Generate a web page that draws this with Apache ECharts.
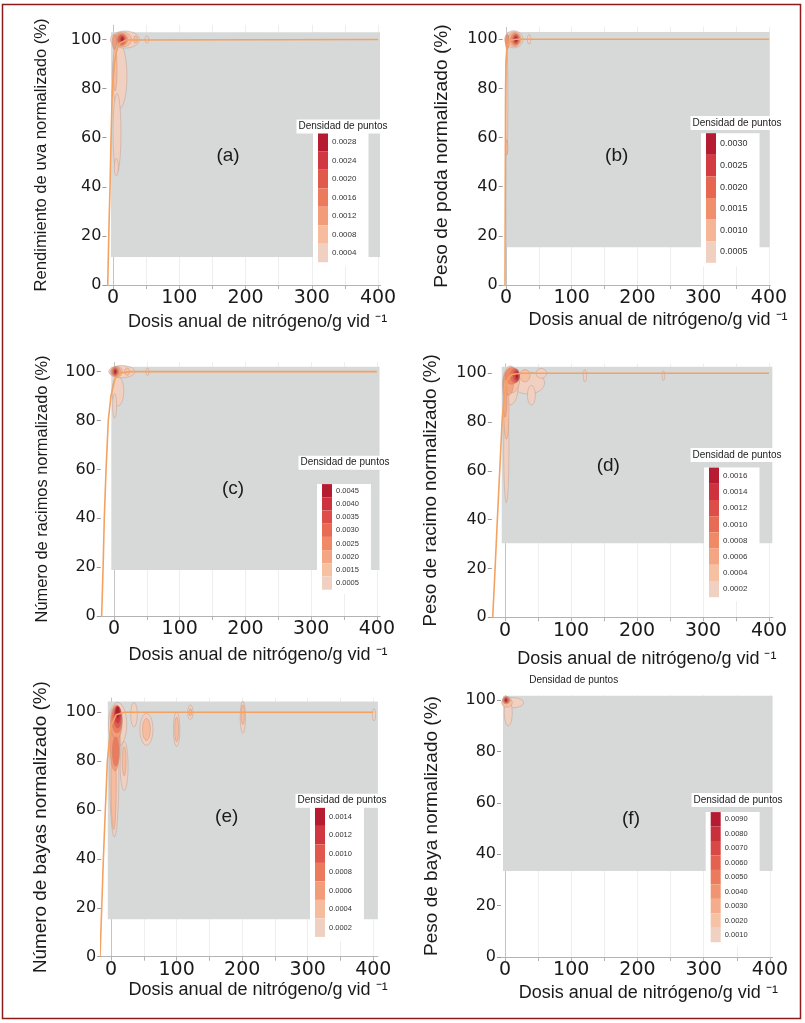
<!DOCTYPE html>
<html><head><meta charset="utf-8">
<script src="https://cdn.jsdelivr.net/npm/echarts@6/dist/echarts.min.js"></script>
<style>html,body{margin:0;padding:0;background:#fff}#c{width:805px;height:1023px}</style>
</head><body><div id="c"></div><script>
// ---------------- DATA ----------------
const yAxisTitles = [
  'Rendimiento de uva normalizado (%)',
  'Peso de poda normalizado (%)',
  'Número de racimos normalizado (%)',
  'Peso de racimo normalizado (%)',
  'Número de bayas normalizado (%)',
  'Peso de baya normalizado (%)'
];
const xAxisTitle = 'Dosis anual de nitrógeno/g vid ⁻¹';
const panelLetters = ['(a)', '(b)', '(c)', '(d)', '(e)', '(f)'];
const legendTitle = 'Densidad de puntos';
const xLabelTicks = [0, 100, 200, 300, 400];
const xMinorTicks = [0, 50, 100, 150, 200, 250, 300, 350, 400];
const yLabelTicks = [0, 20, 40, 60, 80, 100];

// legend levels (point density)
const levelsA = [0.0004, 0.0008, 0.0012, 0.0016, 0.0020, 0.0024, 0.0028];
const levelsB = [0.0005, 0.0010, 0.0015, 0.0020, 0.0025, 0.0030];
const levelsC = [0.0005, 0.0015, 0.0020, 0.0025, 0.0030, 0.0035, 0.0040, 0.0045];
const levelsD = [0.0002, 0.0004, 0.0006, 0.0008, 0.0010, 0.0012, 0.0014, 0.0016];
const levelsE = [0.0002, 0.0004, 0.0006, 0.0008, 0.0010, 0.0012, 0.0014];
const levelsF = [0.0010, 0.0020, 0.0030, 0.0040, 0.0050, 0.0060, 0.0070, 0.0080, 0.0090];

// density contours: [N dose, response %, half-width N, half-height %, density level]
const densityA = [
  [10, 85, 11, 13, 0.0004], [6, 62, 6, 16, 0.0004], [5, 48, 3, 3.5, 0.0004],
  [18, 100, 22, 3.5, 0.0004], [51, 100, 3, 1.5, 0.0004],
  [3, 88, 3, 9, 0.0008], [14, 100, 14, 3, 0.0008], [34, 100, 3, 1.5, 0.0008],
  [2, 99, 3, 3, 0.0012], [12, 100, 10, 2.6, 0.0012],
  [13, 100, 7, 2.2, 0.0016], [13, 100, 5, 1.8, 0.0020],
  [14, 100, 3.5, 1.4, 0.0024], [14, 100, 2, 1, 0.0028]
];
const densityB = [
  [12, 100, 14, 3.5, 0.0005], [35, 100, 2.5, 2, 0.0005], [1, 75, 2, 22, 0.0005],
  [13, 100, 10, 3, 0.0010], [1, 56, 2, 3, 0.0010],
  [2, 99, 3, 3, 0.0015], [14, 100, 7, 2.5, 0.0015],
  [15, 100, 5, 2, 0.0020], [15, 100, 3.5, 1.5, 0.0025], [15, 100, 2, 1, 0.0030]
];
const densityC = [
  [12, 100, 20, 2.5, 0.0005], [6, 92, 9, 6, 0.0005], [1, 86, 3, 5, 0.0005], [51, 100, 2.5, 1.5, 0.0005],
  [4, 100, 9, 2.2, 0.0015], [20, 100, 4, 1.5, 0.0015],
  [3, 100, 7, 2, 0.0020], [2, 100, 5, 1.8, 0.0025], [2, 100, 4, 1.5, 0.0030],
  [2, 100, 3, 1.2, 0.0035], [2, 100, 2, 1, 0.0040], [2, 100, 1.5, 0.8, 0.0045]
];
const densityD = [
  [2, 68, 4, 21, 0.0002], [8, 95, 12, 8, 0.0002], [35, 96, 25, 4.5, 0.0002], [40, 91, 6, 4, 0.0002],
  [55, 100, 8, 2, 0.0002], [121, 99, 2.5, 2.5, 0.0002], [240, 99, 2, 2, 0.0002],
  [2, 85, 4, 12, 0.0004], [10, 97, 12, 5, 0.0004], [30, 99, 8, 2.5, 0.0004],
  [0, 90, 3, 8, 0.0006], [5, 96, 8, 5, 0.0006], [10, 99, 10, 3.5, 0.0008],
  [15, 99, 7, 3, 0.0010], [17, 99, 5, 2.5, 0.0012], [18, 99, 3.5, 2, 0.0014], [18, 99, 2, 1.3, 0.0016]
];
const densityE = [
  [5, 75, 7, 26, 0.0002], [20, 78, 6, 10, 0.0002], [10, 95, 14, 9, 0.0002], [35, 99, 5, 5, 0.0002],
  [54, 93, 10, 6.5, 0.0002], [100, 93, 5, 7, 0.0002], [121, 100, 4, 3, 0.0002],
  [201, 98, 4, 6.5, 0.0002], [401, 99, 2.5, 2.5, 0.0002],
  [54, 93, 6, 4.5, 0.0004], [100, 93, 3, 5, 0.0004], [201, 99, 2.5, 4, 0.0004], [121, 100, 2, 1.5, 0.0004],
  [4, 70, 4, 18, 0.0004], [20, 80, 3, 6, 0.0004],
  [6, 88, 8, 12, 0.0006], [8, 96, 9, 7, 0.0006], [7, 84, 5, 6, 0.0008], [9, 97, 8, 5.5, 0.0008],
  [10, 98, 6, 4.5, 0.0010], [10, 99, 5, 3.5, 0.0012], [10, 100, 3.5, 2.5, 0.0014]
];
const densityF = [
  [12, 99, 16, 2, 0.0010], [5, 95, 6, 5, 0.0010], [3, 99, 8, 1.8, 0.0020],
  [2, 100, 6, 1.5, 0.0030], [2, 100, 5, 1.3, 0.0040], [2, 100, 4, 1.1, 0.0050],
  [2, 100, 3, 1, 0.0060], [1.5, 100, 2.5, 0.8, 0.0070], [1.5, 100, 2, 0.7, 0.0080], [1.5, 100, 1.5, 0.6, 0.0090]
];

// fitted response curves [N dose, %]
const curveA = [[-8, 0], [-6, 25], [-4.5, 40], [-3, 60], [-1, 80], [2, 90], [5, 95], [10, 98.5], [20, 99.8], [400, 100]];
const curveB = [[-1.5, 0], [-1, 50], [-0.5, 80], [0, 90], [2, 97], [6, 99.5], [15, 100], [400, 100]];
const curveC = [[-18.7, 0], [-16.5, 20], [-14.7, 40], [-12, 60], [-8.6, 80], [-4.6, 90], [1.5, 97], [10, 99.5], [25, 100], [400, 100]];
const curveD = [[-18.6, 0], [-15, 20], [-11.6, 40], [-8, 60], [-4.5, 80], [-1.5, 90], [3, 97], [10, 99.5], [25, 100], [400, 100]];
const curveE = [[-16.8, 0], [-14.2, 20], [-11.7, 40], [-8.7, 60], [-5.6, 80], [-2, 90], [1, 95], [8, 99], [20, 100], [400, 100]];
const curveF = [];

// ---------------- LAYOUT (positions / sizes) ----------------
const layout = [
  {grid: [106.4, 24.8, 274.3, 260.2], x: [-10, 404], yMax: 106, gray: [-3, 11.4, 403, 103],
   yNameSize: 16.6, yNameGap: 56, xNameGap: 28, xShift: 28,
   lg: {tx: 343, ty: 126.5, bx: 318, top: 132.75, step: 18.5, fs: 8}, letter: [228, 156]},
  {grid: [502.7, 27, 267.6, 258], x: [-5, 402], yMax: 105, gray: [1, 15.4, 401, 103],
   yNameSize: 19.2, yNameGap: 51.7, xNameGap: 26, xShift: 43,
   lg: {tx: 737, ty: 123, bx: 706, top: 133.2, step: 21.6, fs: 9}, letter: [616.7, 156]},
  {grid: [100.8, 361.9, 279.4, 254.1], x: [-20, 405], yMax: 104, gray: [-4, 18.8, 404, 102],
   yNameSize: 16.4, yNameGap: 50, xNameGap: 30, xShift: 35,
   lg: {tx: 345, ty: 462.7, bx: 322, top: 484.1, step: 13.2, fs: 7.5}, letter: [233, 489]},
  {grid: [491.8, 363.5, 281.2, 253.8], x: [-20, 406], yMax: 104, gray: [-5, 30.3, 405, 102.7],
   yNameSize: 18.8, yNameGap: 51, xNameGap: 33, xShift: 29,
   lg: {tx: 737, ty: 455, bx: 709, top: 467.6, step: 16.2, fs: 8}, letter: [608.3, 466]},
  {grid: [101.2, 697.6, 276.7, 259.1], x: [-15, 407], yMax: 106, gray: [-5, 15.3, 407, 104.4],
   yNameSize: 18.9, yNameGap: 51, xNameGap: 24, xShift: 37,
   lg: {tx: 342, ty: 800.7, bx: 315, top: 807.4, step: 18.5, fs: 7.5}, letter: [226.7, 816.7]},
  {grid: [501, 695, 271.6, 262], x: [-6, 404], yMax: 102, gray: [-3, 33.5, 404, 101.7],
   yNameSize: 19, yNameGap: 60, xNameGap: 27, xShift: 23,
   lg: {tx: 738, ty: 800, bx: 710.7, top: 812.1, step: 14.46, fs: 7.5}, letter: [631, 818.3]}
];
const extraLegendTitle = [573.7, 680];

const levels = [levelsA, levelsB, levelsC, levelsD, levelsE, levelsF];
const densities = [densityA, densityB, densityC, densityD, densityE, densityF];
const curves = [curveA, curveB, curveC, curveD, curveE, curveF];

// ---------------- STYLE HELPERS ----------------
const ramp = ['#efd0c1', '#f6c0a2', '#f4a584', '#ef8966', '#e86c55', '#dd4e48', '#cd323e', '#b51b31'];
function hex2rgb(h) { return [1, 3, 5].map(i => parseInt(h.substr(i, 2), 16)); }
function mix(a, b, f) {
  const A = hex2rgb(a), B = hex2rgb(b);
  return 'rgb(' + A.map((v, i) => Math.round(v + (B[i] - v) * f)).join(',') + ')';
}
function rampColors(n) {
  const out = [];
  for (let i = 0; i < n; i++) {
    const t = n === 1 ? ramp.length - 1 : i / (n - 1) * (ramp.length - 1);
    const k = Math.min(Math.floor(t), ramp.length - 2);
    out.push(mix(ramp[k], ramp[k + 1], t - k));
  }
  return out;
}
function makePieces(lv) {
  const cols = rampColors(lv.length);
  return lv.map((v, i) => {
    const p = {gte: i === 0 ? 0 : (lv[i - 1] + v) / 2, label: v.toFixed(4), color: cols[i]};
    if (i < lv.length - 1) p.lt = (v + lv[i + 1]) / 2;
    return p;
  });
}
function renderBlob(params, api) {
  const c = api.coord([api.value(0), api.value(1)]);
  const s = api.size([api.value(2), api.value(3)]);
  return {
    type: 'ellipse',
    shape: {cx: c[0], cy: c[1], rx: s[0], ry: s[1]},
    style: {fill: api.visual('color'), stroke: 'rgba(165,125,110,0.5)', lineWidth: 0.6}
  };
}

const TXT = '#1a1a1a';
const option = {animation: false, grid: [], xAxis: [], yAxis: [], series: [], visualMap: [], graphic: []};

layout.forEach((L, p) => {
  option.grid.push({left: L.grid[0], top: L.grid[1], width: L.grid[2], height: L.grid[3], outerBoundsMode: 'none'});
  option.xAxis.push({
    type: 'value', gridIndex: p, min: L.x[0], max: L.x[1],
    axisLine: {show: true, onZero: false, lineStyle: {color: '#b3b3b3', width: 1}},
    axisTick: {show: true, customValues: xMinorTicks, length: 4, lineStyle: {color: '#b3b3b3'}},
    axisLabel: {customValues: xLabelTicks, fontSize: 19, fontFamily: 'DejaVu Sans', color: TXT, margin: 4},
    splitLine: {show: false},
    name: xAxisTitle, nameLocation: 'middle', nameGap: L.xNameGap,
    nameTextStyle: {fontSize: 18, fontFamily: 'Liberation Sans', color: TXT, padding: [0, 0, 0, L.xShift]}
  });
  option.yAxis.push({
    type: 'value', gridIndex: p, min: 0, max: L.yMax,
    axisLine: {show: false, onZero: false},
    axisTick: {show: true, customValues: yLabelTicks, length: 4, lineStyle: {color: '#999'}},
    axisLabel: {customValues: yLabelTicks, fontSize: 16, fontFamily: 'DejaVu Sans', color: TXT, margin: 5},
    splitLine: {show: false},
    name: yAxisTitles[p], nameLocation: 'middle', nameGap: L.yNameGap,
    nameTextStyle: {fontSize: L.yNameSize, fontFamily: 'Liberation Sans', color: TXT}
  });
  // background: grid lines + lowest-density gray field
  option.series.push({
    type: 'line', xAxisIndex: p, yAxisIndex: p, data: [], silent: true,
    markLine: {
      z: 0, silent: true, symbol: ['none', 'none'], label: {show: false}, animation: false,
      lineStyle: {color: '#eeeeee', width: 1, type: 'solid'},
      data: xMinorTicks.map(v => v === 0 ? {xAxis: v, lineStyle: {color: '#c4c4c4', type: 'solid'}} : {xAxis: v})
    },
    markArea: {
      z: 1, silent: true, animation: false, itemStyle: {color: '#d7d9d8'},
      data: [[{xAxis: L.gray[0], yAxis: L.gray[1]}, {xAxis: L.gray[2], yAxis: L.gray[3]}]]
    }
  });
  const blobs = densities[p].slice().sort((a, b) => (a[4] - b[4]) || (b[2] * b[3] - a[2] * a[3]));
  const customIdx = option.series.length;
  option.series.push({
    type: 'custom', xAxisIndex: p, yAxisIndex: p, z: 10, clip: true, silent: true,
    encode: {x: 0, y: 1}, renderItem: renderBlob, data: blobs
  });
  if (curves[p].length) {
    option.series.push({
      type: 'line', xAxisIndex: p, yAxisIndex: p, z: 11, data: curves[p], showSymbol: false, symbol: 'none',
      silent: true, clip: true, lineStyle: {color: '#f4a261', width: 1.6}
    });
  }
  option.visualMap.push({
    type: 'piecewise', seriesIndex: customIdx, dimension: 4, orient: 'vertical', align: 'left',
    left: L.lg.bx - 5, top: L.lg.top, itemWidth: 10, itemHeight: L.lg.step, itemGap: 0, itemSymbol: 'rect',
    pieces: makePieces(levels[p]), selectedMode: false, hoverLink: false,
    textStyle: {fontSize: L.lg.fs, color: '#333', fontFamily: 'Liberation Sans'}, textGap: 4,
    backgroundColor: '#fff', padding: [0, 12, 4, 5]
  });
  option.graphic.push({
    type: 'text', x: L.lg.tx, y: L.lg.ty, z: 100, silent: true,
    style: {text: legendTitle, fontSize: 10, fontFamily: 'Liberation Sans', fill: '#222',
      textAlign: 'center', textVerticalAlign: 'middle', align: 'center', verticalAlign: 'middle',
      backgroundColor: '#fff', padding: [2, 2, 2, 2]}
  });
  option.graphic.push({
    type: 'text', x: L.letter[0], y: L.letter[1], z: 100, silent: true,
    style: {text: panelLetters[p], fontSize: 19, fontFamily: 'Liberation Sans', fill: TXT,
      textAlign: 'center', textVerticalAlign: 'middle', align: 'center', verticalAlign: 'middle'}
  });
});
option.graphic.push({
  type: 'text', x: extraLegendTitle[0], y: extraLegendTitle[1], z: 100, silent: true,
  style: {text: legendTitle, fontSize: 10, fontFamily: 'Liberation Sans', fill: '#222',
    textAlign: 'center', textVerticalAlign: 'middle', align: 'center', verticalAlign: 'middle'}
});
option.graphic.push({
  type: 'rect', z: 100, silent: true, shape: {x: 2.5, y: 4.5, width: 798, height: 1014},
  style: {fill: 'transparent', stroke: '#8e1b1b', lineWidth: 1.5}
});

const chart = echarts.init(document.getElementById('c'), null, {renderer: 'canvas'});
chart.setOption(option);
</script></body></html>
